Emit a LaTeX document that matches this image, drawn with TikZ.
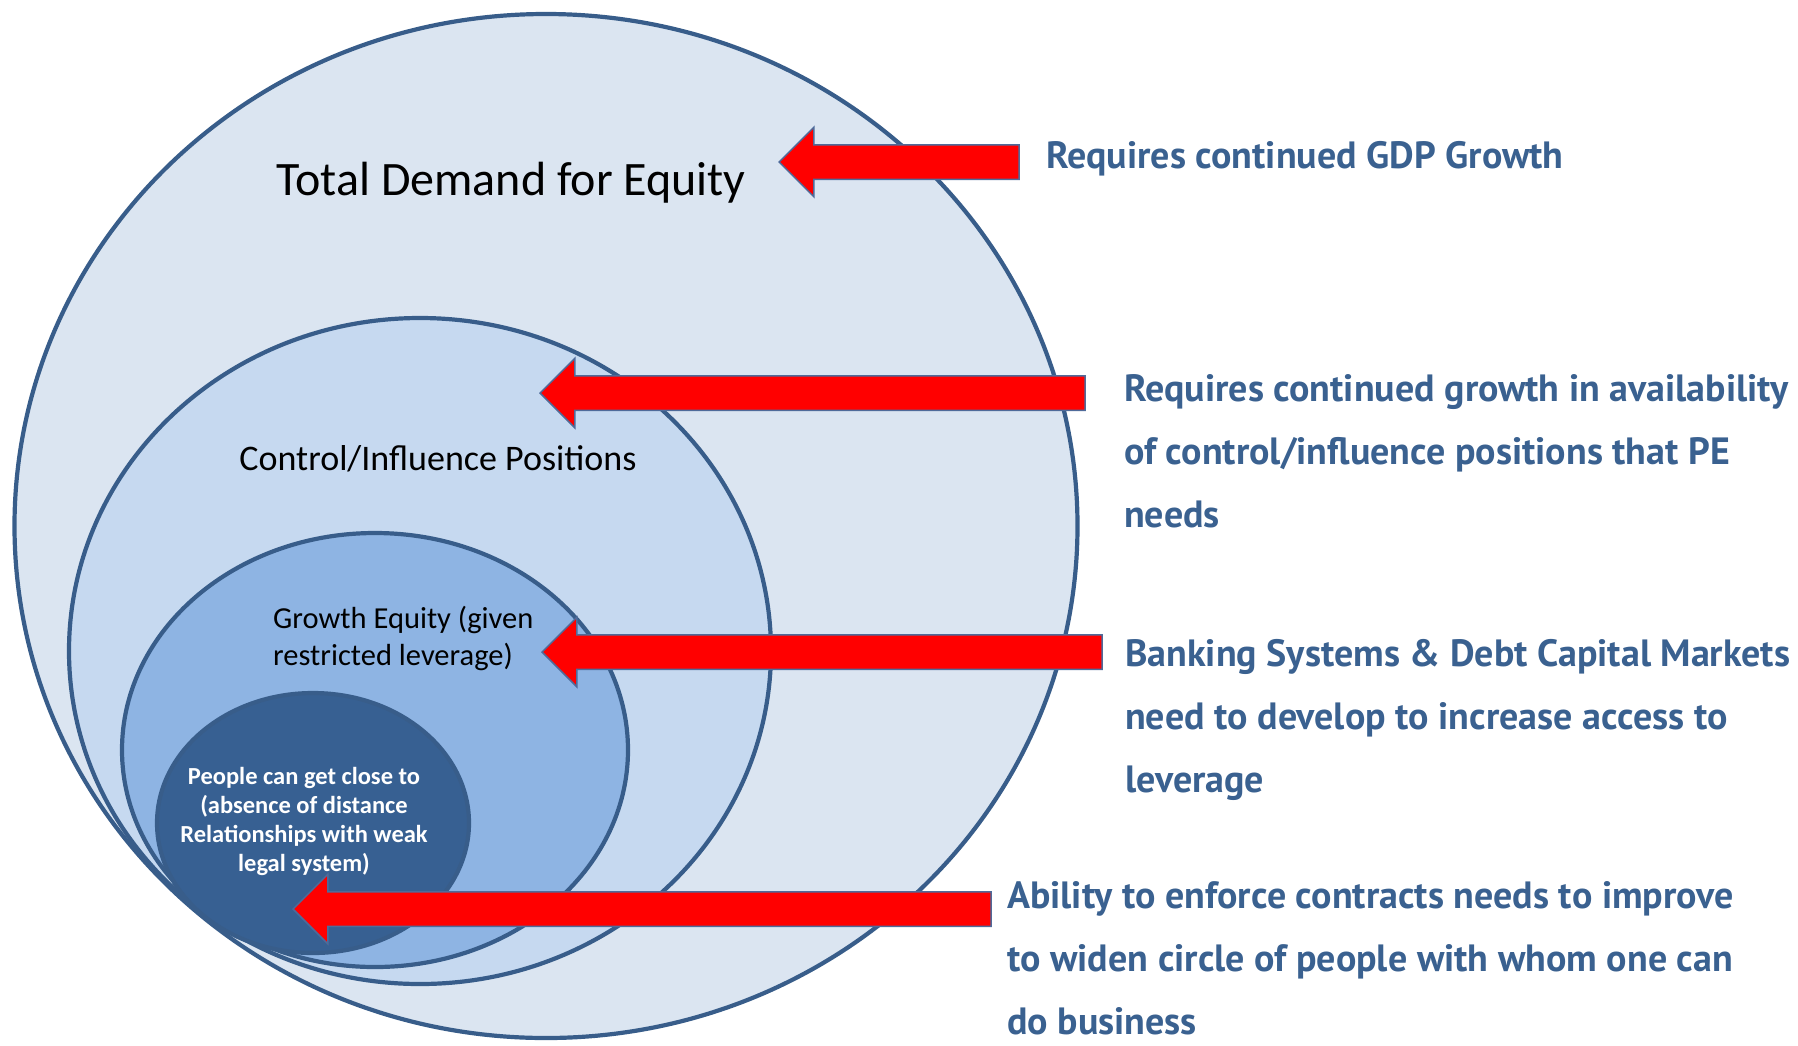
\documentclass[tikz,border=0pt]{standalone}
\usepackage{fontspec}
\setmainfont{Carlito}
\newfontfamily\notefont{PT Sans}
\usetikzlibrary{shapes.geometric,shapes.arrows}

\definecolor{ringLine}{HTML}{385D8A}
\definecolor{ringOne}{HTML}{DBE5F1}
\definecolor{ringTwo}{HTML}{C6D9F0}
\definecolor{ringThree}{HTML}{8EB4E3}
\definecolor{ringFour}{HTML}{376092}
\definecolor{noteBlue}{HTML}{3A6190}
\definecolor{arrowLine}{HTML}{4F6B9A}

\begin{document}
\begin{tikzpicture}
[x=1pt,y=-1pt,
  ringDecorate/.style={shape=ellipse,draw=ringLine,line width=4.2pt,inner sep=0pt},%
  arrowDecorate/.style={shape=single arrow,shape border rotate=180,draw=arrowLine,
    line width=1.5pt,fill=red,inner xsep=0pt,inner ysep=16.5pt,
    single arrow head extend=17.5pt,anchor=tip},%
  labelDecorate/.style={inner sep=0pt,anchor=base},%
  noteDecorate/.style={inner sep=0pt,anchor=base west,align=left,text=noteBlue,
    font=\notefont\bfseries\fontsize{38}{63}\selectfont}]
\useasboundingbox (0,0) rectangle (1798,1045);
%% rings, outer first
\foreach \nodename/\x/\y/\w/\h/\col in {
  total/546/526/1063/1024/ringOne, control/420/651/702/666/ringTwo,
  growth/375/750/506/434/ringThree, close/313/823/312/260/ringFour}
{
  \node (\nodename) at (\x,\y) [ringDecorate,fill=\col,
    minimum width=\w pt,minimum height=\h pt] {};
}
%% ring labels (base = last line)
\node (totalLabel) at (511,195) [labelDecorate,font=\fontsize{48}{56}\selectfont]
  {Total Demand for Equity};
\node (controlLabel) at (438,470) [labelDecorate,font=\fontsize{36}{42}\selectfont]
  {Control/Influence Positions};
\node (growthLabel) at (273,665) [labelDecorate,anchor=base west,align=left,
  font=\fontsize{30.5}{37}\selectfont]
  {Growth Equity (given\\restricted leverage)};
\node (closeLabel) at (304,871) [labelDecorate,align=center,text=white,
  font=\bfseries\fontsize{24.5}{28.7}\selectfont]
  {People can get close to\\(absence of distance\\Relationships with weak\\legal system)};
%% block arrows
\foreach \nodename/\x/\y/\len in {
  gdpArrow/778/162/240, controlArrow/539/393/545,
  bankArrow/541/652/560, contractArrow/292/909/698}
{
  \node (\nodename) at (\x,\y) [arrowDecorate,minimum height=\len pt] {};
}
%% notes on the right
\node (gdpNote) at (1046,168) [noteDecorate] {Requires continued GDP Growth};
\node (controlNote) at (1124,527) [noteDecorate]
  {Requires continued growth in availability\\of control/influence positions that PE\\needs};
\node (bankNote) at (1125,792) [noteDecorate]
  {Banking Systems \& Debt Capital Markets\\need to develop to increase access to\\leverage};
\node (contractNote) at (1007,1034) [noteDecorate]
  {Ability to enforce contracts needs to improve\\to widen circle of people with whom one can\\do business};
\end{tikzpicture}
\end{document}
